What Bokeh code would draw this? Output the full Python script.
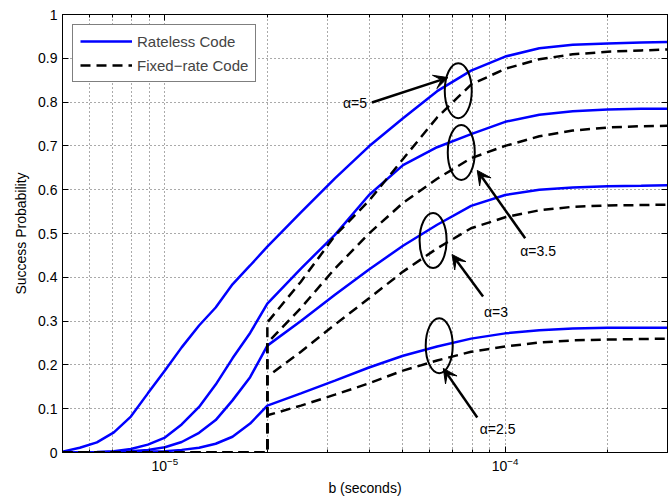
from bokeh.plotting import figure
from bokeh.models import (LogAxis, LinearAxis, FixedTicker, Legend, LegendItem,
                          Arrow, VeeHead, Label, LogTickFormatter)
from bokeh.embed import file_html
from bokeh.resources import INLINE

FONT = "Liberation Sans"

# sample times b (seconds)
b_rateless = [5.0e-6, 5.62e-6, 6.31e-6, 7.08e-6, 7.94e-6, 8.91e-6, 1.0e-5, 1.12e-5,
              1.26e-5, 1.41e-5, 1.58e-5, 1.78e-5, 2.0e-5, 2.51e-5, 3.16e-5, 3.98e-5,
              5.01e-5, 6.31e-5, 7.94e-5, 1.0e-4, 1.26e-4, 1.58e-4, 2.0e-4, 2.51e-4, 3.0e-4]
b_fixed = [5.0e-6, 2.0e-5, 2.0e-5, 2.51e-5, 3.16e-5, 3.98e-5, 5.01e-5, 6.31e-5,
           7.94e-5, 1.0e-4, 1.26e-4, 1.58e-4, 2.0e-4, 2.51e-4, 3.0e-4]

# success probability, rateless code
rateless_a5 = [0.002, 0.011, 0.023, 0.046, 0.082, 0.135, 0.187, 0.24, 0.29, 0.331, 0.384,
               0.427, 0.47, 0.548, 0.626, 0.699, 0.763, 0.825, 0.872, 0.904, 0.923, 0.931,
               0.934, 0.936, 0.937]
rateless_a35 = [0.0, 0.0, 0.001, 0.003, 0.008, 0.018, 0.034, 0.064, 0.104, 0.155, 0.215,
                0.273, 0.34, 0.42, 0.497, 0.588, 0.656, 0.697, 0.727, 0.755, 0.771, 0.779,
                0.783, 0.785, 0.785]
rateless_a3 = [0.0, 0.0, 0.0, 0.001, 0.003, 0.006, 0.012, 0.024, 0.045, 0.074, 0.119,
               0.172, 0.244, 0.30, 0.36, 0.418, 0.472, 0.52, 0.563, 0.588, 0.6, 0.605,
               0.608, 0.609, 0.61]
rateless_a25 = [0.0, 0.0, 0.0, 0.0, 0.001, 0.002, 0.003, 0.006, 0.011, 0.02, 0.036,
                0.066, 0.107, 0.135, 0.164, 0.194, 0.221, 0.242, 0.26, 0.272, 0.279,
                0.283, 0.285, 0.285, 0.285]

# success probability, fixed-rate code
fixed_a5 = [0, 0, 0.297, 0.39, 0.495, 0.575, 0.67, 0.765, 0.84, 0.876, 0.898, 0.909,
            0.915, 0.918, 0.92]
fixed_a35 = [0, 0, 0.25, 0.33, 0.42, 0.50, 0.57, 0.625, 0.672, 0.70, 0.722, 0.735,
             0.742, 0.745, 0.746]
fixed_a3 = [0, 0, 0.173, 0.23, 0.292, 0.352, 0.413, 0.466, 0.512, 0.537, 0.553, 0.561,
            0.564, 0.565, 0.566]
fixed_a25 = [0, 0, 0.085, 0.107, 0.132, 0.158, 0.187, 0.21, 0.23, 0.242, 0.251, 0.256,
             0.258, 0.259, 0.26]

x_major = [1e-5, 1e-4]
x_minor = [6e-6, 7e-6, 8e-6, 9e-6, 2e-5, 3e-5, 4e-5, 5e-5, 6e-5, 7e-5, 8e-5, 9e-5,
           2e-4, 3e-4]
y_ticks = [0, 0.1, 0.2, 0.3, 0.4, 0.5, 0.6, 0.7, 0.8, 0.9, 1]
y_tick_labels = ["0", "0.1", "0.2", "0.3", "0.4", "0.5", "0.6", "0.7", "0.8", "0.9", "1"]

# curve-pair annotations: label, label position, arrow tail, arrow tip, ellipse centre
groups = [
    ("α=5",   (3.62e-5, 0.797), (4.06e-5, 0.799), (6.79e-5, 0.856), (7.28e-5, 0.826)),
    ("α=3.5", (1.25e-4, 0.460), (1.145e-4, 0.489), (8.28e-5, 0.644), (7.43e-5, 0.685)),
    ("α=3",   (9.4e-5, 0.320), (8.61e-5, 0.356), (6.98e-5, 0.452), (6.14e-5, 0.484)),
    ("α=2.5", (9.5e-5, 0.053), (8.28e-5, 0.080), (6.58e-5, 0.192), (6.40e-5, 0.244)),
]

p = figure(width=670, height=498, x_axis_type="log", x_range=(5e-6, 3e-4),
           y_range=(0, 1), output_backend="svg", toolbar_location=None,
           min_border_left=62, min_border_right=3, min_border_top=14,
           min_border_bottom=46)
p.outline_line_color = "black"
p.outline_line_width = 1
p.background_fill_color = "white"
p.border_fill_color = "white"

# rateless curves (solid blue)
blue_r = None
for ys in (rateless_a5, rateless_a35, rateless_a3, rateless_a25):
    blue_r = p.line(b_rateless, ys, line_color="#0000ff", line_width=2.5)

# fixed-rate curves (dashed black)
dash_r = None
for ys in (fixed_a5, fixed_a35, fixed_a3, fixed_a25):
    dash_r = p.line(b_fixed, ys, line_color="black", line_width=2.5, line_dash="10 6")

# ellipses, arrows and labels
for text, lpos, tail, tip, centre in groups:
    p.ellipse(x=[centre[0]], y=[centre[1]], width=27, height=55, width_units="screen",
              height_units="screen", fill_color=None, line_color="black", line_width=2)
    p.add_layout(Arrow(end=VeeHead(size=14, fill_color="black", line_color="black"),
                       x_start=tail[0], y_start=tail[1], x_end=tip[0], y_end=tip[1],
                       line_color="black", line_width=2.5))
    p.add_layout(Label(x=lpos[0], y=lpos[1], text=text, text_align="center",
                       text_baseline="middle", text_font=FONT, text_font_size="14px",
                       text_color="black"))

p.add_layout(Label(x=3.6e-6, y=-0.02, text="−3", text_align="center",
                   text_baseline="middle", text_font=FONT, text_font_size="10px",
                   text_color="black"))

x_ticker = FixedTicker(ticks=x_major, minor_ticks=x_minor)
y_ticker = FixedTicker(ticks=y_ticks)

# axes
for ax in (p.xaxis[0], p.yaxis[0]):
    ax.axis_line_color = "black"
    ax.major_tick_line_color = "black"
    ax.minor_tick_line_color = "black"
    ax.major_tick_in = 6
    ax.major_tick_out = 0
    ax.minor_tick_in = 3
    ax.minor_tick_out = 0
    ax.major_label_text_font = FONT
    ax.major_label_text_font_size = "14px"
    ax.major_label_text_color = "black"
    ax.axis_label_text_font = FONT
    ax.axis_label_text_font_size = "14px"
    ax.axis_label_text_font_style = "normal"
    ax.axis_label_text_color = "black"

p.xaxis.ticker = x_ticker
p.xaxis.formatter = LogTickFormatter()
p.yaxis.ticker = y_ticker
p.yaxis.major_label_overrides = dict(zip(y_ticks, y_tick_labels))
p.yaxis.minor_tick_line_color = None
p.yaxis.axis_label = "Success Probability"
p.yaxis.major_label_standoff = 5
p.yaxis.axis_label_standoff = 6
p.xaxis.axis_label = "b (seconds)"
p.xaxis.major_label_standoff = 4
p.xaxis.axis_label_standoff = 6

# box ticks on the top and right edges, without labels
top = LogAxis(ticker=x_ticker, major_tick_in=6, major_tick_out=0, minor_tick_in=3,
              minor_tick_out=0, major_label_text_font_size="1px",
              major_label_text_color=None, major_label_standoff=0,
              axis_line_color="black")
right = LinearAxis(ticker=y_ticker, major_tick_in=6, major_tick_out=0,
                   minor_tick_line_color=None, major_label_text_font_size="1px",
                   major_label_text_color=None, major_label_standoff=0,
                   axis_line_color="black")
p.add_layout(top, "above")
p.add_layout(right, "right")

# dotted grid
p.xgrid.ticker = x_ticker
p.xgrid.grid_line_color = "#555555"
p.xgrid.grid_line_dash = "1 3"
p.xgrid.minor_grid_line_color = "#555555"
p.xgrid.minor_grid_line_dash = "1 3"
p.ygrid.ticker = y_ticker
p.ygrid.grid_line_color = "#555555"
p.ygrid.grid_line_dash = "1 3"

legend = Legend(items=[LegendItem(label="Rateless Code", renderers=[blue_r]),
                       LegendItem(label="Fixed−rate Code", renderers=[dash_r])],
                location="top_left")
legend.margin = 10
legend.padding = 7
legend.spacing = 6
legend.label_height = 18
legend.glyph_height = 18
legend.glyph_width = 52
legend.label_standoff = 5
legend.label_text_font = FONT
legend.label_text_font_size = "15px"
legend.border_line_color = "black"
legend.border_line_width = 1
legend.background_fill_alpha = 1
p.add_layout(legend)

open("out.html", "w").write(file_html(p, INLINE))
